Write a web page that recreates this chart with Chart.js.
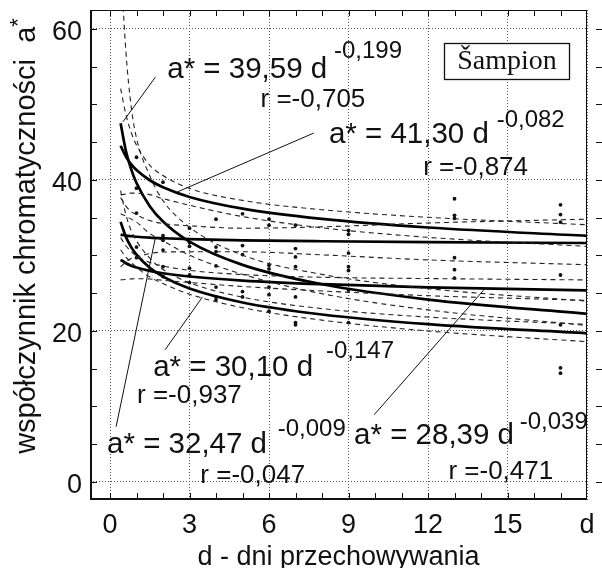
<!DOCTYPE html>
<html>
<head>
<meta charset="utf-8">
<script src="https://cdn.jsdelivr.net/npm/chart.js@4.4.1/dist/chart.umd.min.js"></script>
<style>
  html, body { margin: 0; padding: 0; background: #fff; }
</style>
</head>
<body>
<canvas id="c1" width="602" height="568"></canvas>
<script>
// fitted curves a* = A d^b, read at these days
var days = [0.4, 0.6, 0.8, 1, 1.5, 2, 3, 5, 8, 12, 18];
var fitA = [47.51, 43.83, 41.39, 39.59, 36.52, 34.49, 31.82, 28.74, 26.17, 24.15, 22.27]; // 39,59 d^-0,199
var fitB = [44.52, 43.07, 42.06, 41.30, 39.95, 39.02, 37.74, 36.19, 34.83, 33.69, 32.59]; // 41,30 d^-0,082
var fitC = [34.44, 32.45, 31.10, 30.10, 28.36, 27.18, 25.61, 23.76, 22.17, 20.89, 19.68]; // 30,10 d^-0,147
var fitD = [32.74, 32.62, 32.54, 32.47, 32.35, 32.27, 32.15, 32.00, 31.87, 31.75, 31.64]; // 32,47 d^-0,009
var fitE = [29.42, 28.96, 28.64, 28.39, 27.94, 27.63, 27.20, 26.66, 26.18, 25.77, 25.36]; // 28,39 d^-0,039

// confidence bands (dashed)
var bandAUp = [68.9, 56.98, 49.67, 45.53, 40.54, 37.25, 33.73, 30.03, 27.48, 25.60, 23.94];
var bandALo = [35.5, 35.2, 34.8, 34.4, 32.9, 31.94, 30.02, 27.50, 24.92, 22.78, 20.72];
var bandBUp = [52.09, 48.67, 46.27, 44.60, 41.95, 40.58, 38.87, 37.28, 36.05, 35.04, 34.06];
var bandBLo = [38.05, 38.12, 38.24, 38.24, 38.05, 37.52, 36.64, 35.14, 33.65, 32.39, 31.19];
var bandCUp = [38.57, 35.37, 33.28, 31.91, 29.64, 28.13, 26.38, 24.47, 22.95, 21.83, 20.86];
var bandCLo = [30.75, 29.77, 29.07, 28.40, 27.14, 26.26, 24.86, 23.07, 21.42, 19.99, 18.57];
var bandDUp = [37.65, 36.53, 35.79, 35.39, 34.61, 34.21, 33.92, 33.60, 33.78, 34.29, 34.80];
var bandDLo = [28.47, 29.13, 29.58, 29.79, 30.23, 30.44, 30.47, 30.48, 30.07, 29.40, 28.76];
var bandEUp = [32.36, 31.28, 30.50, 29.95, 29.06, 28.60, 28.02, 27.46, 27.10, 26.93, 26.75];
var bandELo = [26.75, 26.81, 26.89, 26.91, 26.87, 26.70, 26.41, 25.88, 25.29, 24.66, 24.04];

// measured points
var ptDays = [1, 1, 1, 1, 1,
              2, 2, 2, 2, 2, 2,
              3, 3, 3, 3, 3, 3,
              4, 4, 4, 4, 4, 4, 4,
              5, 5, 5, 5, 5,
              6, 6, 6, 6, 6, 6, 6,
              7, 7, 7, 7, 7, 7, 7,
              9, 9, 9, 9, 9, 9, 9,
              13, 13, 13, 13, 13, 13,
              17, 17, 17, 17, 17, 17, 17];
var ptVals = [43.0, 38.9, 35.6, 31.1, 29.7,
              39.7, 32.6, 32.0, 30.7, 28.5, 27.2,
              33.6, 31.7, 31.2, 28.3, 27.4, 26.4,
              34.8, 31.1, 30.5, 28.6, 25.8, 24.5, 24.1,
              35.5, 31.3, 30.1, 25.2, 24.5,
              34.8, 34.0, 28.7, 28.2, 25.8, 24.8, 22.6,
              34.0, 30.9, 29.8, 28.5, 24.5, 21.1, 20.8,
              33.3, 32.8, 30.3, 28.5, 28.0, 25.4, 21.1,
              37.5, 35.3, 34.9, 29.7, 28.1, 27.0,
              36.7, 35.4, 34.4, 27.4, 20.8, 15.1, 14.4];

var xTicks = [0, 3, 6, 9, 12, 15, 18];
var yTicks = [0, 20, 40, 60];

var eqText = ['a* = 39,59 d', 'a* = 41,30 d', 'a* = 30,10 d', 'a* = 32,47 d', 'a* = 28,39 d'];
var powText = ['-0,199', '-0,082', '-0,147', '-0,009', '-0,039'];
var rText = ['r =-0,705', 'r =-0,874', 'r =-0,937', 'r =-0,047', 'r =-0,471'];

// label placement (data units): [x, y]
var eqPos = [[2.16, 54.6], [8.26, 46.0], [1.63, 15.1], [-0.11, 4.9], [9.21, 6.1]];
var powPos = [[8.45, 57.0], [14.59, 47.9], [8.15, 17.3], [6.33, 7.0], [15.46, 7.9]];
var rPos = [[5.68, 50.6], [11.82, 41.6], [1.02, 11.4], [3.41, 0.8], [12.77, 1.3]];
var leaderFrom = [[1.71, 53.6], [7.69, 46.2], [2.08, 17.5], [0.23, 7.3], [9.97, 8.9]];
var leaderTo = [[0.49, 47.7], [2.54, 38.4], [3.49, 24.5], [1.71, 32.3], [14.1, 25.4]];

function xy(ys) {
    return days.map(function (d, i) { return { x: d, y: ys[i] }; });
}

var datasets = [];
[bandAUp, bandALo, bandBUp, bandBLo, bandCUp, bandCLo, bandDUp, bandDLo, bandEUp, bandELo].forEach(function (b) {
    datasets.push({
        data: xy(b), showLine: true, borderColor: '#222', borderWidth: 1.1,
        borderDash: [5, 4], pointRadius: 0, cubicInterpolationMode: 'monotone'
    });
});
[fitA, fitB, fitC, fitD, fitE].forEach(function (f) {
    datasets.push({
        data: xy(f), showLine: true, borderColor: '#000', borderWidth: 2.7,
        pointRadius: 0, cubicInterpolationMode: 'monotone'
    });
});
datasets.push({
    data: ptDays.map(function (d, i) { return { x: d, y: ptVals[i] }; }),
    showLine: false, pointRadius: 1.9, pointBackgroundColor: '#111', pointBorderWidth: 0
});
leaderFrom.forEach(function (p, i) {
    datasets.push({
        data: [{ x: p[0], y: p[1] }, { x: leaderTo[i][0], y: leaderTo[i][1] }],
        showLine: true, borderColor: '#111', borderWidth: 1, pointRadius: 0, clip: false
    });
});

var FONT = "'Liberation Sans', Arial, sans-serif";

var extras = {
    id: 'extras',
    afterDatasetsDraw: function (chart) {
        var ctx = chart.ctx, x = chart.scales.x, y = chart.scales.y;
        ctx.save();
        ctx.fillStyle = '#111';
        ctx.textAlign = 'left';
        ctx.textBaseline = 'middle';
        for (var i = 0; i < eqText.length; i++) {
            ctx.font = '29.5px ' + FONT;
            ctx.fillText(eqText[i], x.getPixelForValue(eqPos[i][0]), y.getPixelForValue(eqPos[i][1]));
            ctx.font = '24px ' + FONT;
            ctx.fillText(powText[i], x.getPixelForValue(powPos[i][0]), y.getPixelForValue(powPos[i][1]));
            ctx.font = '26px ' + FONT;
            ctx.fillText(rText[i], x.getPixelForValue(rPos[i][0]), y.getPixelForValue(rPos[i][1]));
        }
        // legend box
        ctx.strokeStyle = '#111';
        ctx.lineWidth = 1.3;
        ctx.fillStyle = '#fff';
        ctx.fillRect(444, 43, 125, 36);
        ctx.strokeRect(444.5, 43.5, 125, 36);
        ctx.fillStyle = '#111';
        ctx.textAlign = 'center';
        ctx.font = "28px 'Liberation Serif', 'Times New Roman', serif";
        ctx.fillText('Šampion', 507, 62);
        ctx.restore();
    },
    afterDraw: function (chart) {
        var ctx = chart.ctx, a = chart.chartArea, x = chart.scales.x, y = chart.scales.y;
        ctx.save();
        ctx.strokeStyle = '#111';
        ctx.lineWidth = 1;
        ctx.beginPath();
        ctx.moveTo(a.left, a.top + 0.5); ctx.lineTo(a.right, a.top + 0.5);
        ctx.moveTo(a.right - 0.5, a.top); ctx.lineTo(a.right - 0.5, a.bottom);
        for (var d = 0; d <= 17; d++) {
            var px = Math.round(x.getPixelForValue(d)) + 0.5;
            ctx.moveTo(px, a.top); ctx.lineTo(px, a.top + 6);
            ctx.moveTo(px, a.bottom - 7); ctx.lineTo(px, a.bottom);
        }
        for (var v = 0; v <= 60; v += 5) {
            var py = Math.round(y.getPixelForValue(v)) + 0.5;
            ctx.moveTo(a.left, py); ctx.lineTo(a.left + 7, py);
            ctx.moveTo(a.right + 9, py); ctx.lineTo(a.right + 15, py);
        }
        ctx.stroke();
        ctx.lineWidth = 2;
        ctx.beginPath();
        ctx.moveTo(a.left + 1, a.top); ctx.lineTo(a.left + 1, a.bottom - 1); ctx.lineTo(a.right, a.bottom - 1);
        ctx.stroke();

        // y title, rotated, with raised asterisk
        var main = 'współczynnik chromatyczności  a';
        ctx.font = '29px ' + FONT;
        var w1 = ctx.measureText(main).width;
        ctx.font = '22px ' + FONT;
        var w2 = ctx.measureText('*').width;
        ctx.translate(35, 236);
        ctx.rotate(-Math.PI / 2);
        ctx.fillStyle = '#111';
        ctx.textAlign = 'left';
        ctx.textBaseline = 'alphabetic';
        ctx.font = '29px ' + FONT;
        ctx.fillText(main, -(w1 + w2) / 2, 0);
        ctx.font = '22px ' + FONT;
        ctx.fillText('*', -(w1 + w2) / 2 + w1, -10);
        ctx.restore();
    }
};

var ctx = document.getElementById('c1');
var chart = new Chart(ctx, {
    type: 'scatter',
    data: { datasets: datasets },
    options: {
        responsive: false,
        animation: false,
        layout: { padding: { top: 10, right: 15, left: 0, bottom: 0 } },
        plugins: { legend: { display: false }, tooltip: { enabled: false } },
        scales: {
            x: {
                type: 'linear', min: -0.755, max: 18,
                afterBuildTicks: function (s) { s.ticks = xTicks.map(function (v) { return { value: v }; }); },
                afterFit: function (s) { s.height = 68; s.paddingLeft = 0; s.paddingRight = 0; },
                ticks: {
                    padding: 9, color: '#111', font: { family: FONT, size: 27 },
                    callback: function (v) { return v === 18 ? 'd' : v; }
                },
                grid: { color: '#555', lineWidth: 1, drawTicks: false },
                border: { display: false, dash: [1, 2] },
                title: {
                    display: true, text: 'd - dni przechowywania', color: '#111',
                    font: { family: FONT, size: 27, lineHeight: 0.8 }, padding: { top: 0, bottom: 0 }
                }
            },
            y: {
                type: 'linear', min: -2.4, max: 62.5,
                afterBuildTicks: function (s) { s.ticks = yTicks.map(function (v) { return { value: v }; }); },
                afterFit: function (s) { s.width = 90; s.paddingTop = 0; s.paddingBottom = 0; },
                ticks: { padding: 8, labelOffset: 4, color: '#111', font: { family: FONT, size: 27 } },
                grid: { color: '#555', lineWidth: 1, drawTicks: false },
                border: { display: false, dash: [1, 2] }
            }
        }
    },
    plugins: [extras]
});
</script>
</body>
</html>
